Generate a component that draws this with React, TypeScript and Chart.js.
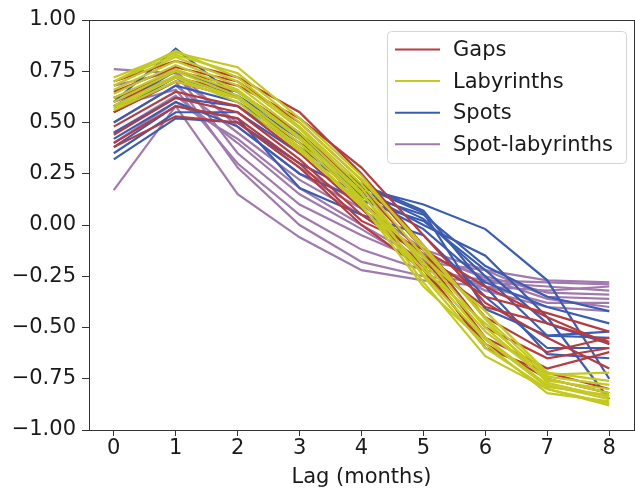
import React, { useEffect, useRef } from "react";
import { Chart, registerables } from "chart.js";

Chart.register(...registerables);

const lags = [0, 1, 2, 3, 4, 5, 6, 7, 8];
const xTicks = [0, 1, 2, 3, 4, 5, 6, 7, 8];
const yTicks = [-1, -0.75, -0.5, -0.25, 0, 0.25, 0.5, 0.75, 1];
const groupNames = ["Gaps", "Labyrinths", "Spots", "Spot-labyrinths"];
const groupColors = ["#b73b3f", "#c3c91f", "#3a5db3", "#a07aae"];

const gaps = [
  [0.70, 0.80, 0.72, 0.55, 0.25, -0.10, -0.45, -0.62, -0.55],
  [0.65, 0.77, 0.70, 0.50, 0.22, -0.12, -0.50, -0.65, -0.60],
  [0.60, 0.72, 0.65, 0.45, 0.18, -0.15, -0.55, -0.70, -0.62],
  [0.55, 0.70, 0.62, 0.40, 0.12, -0.18, -0.40, -0.48, -0.57],
  [0.48, 0.65, 0.58, 0.35, 0.08, -0.20, -0.60, -0.72, -0.80],
  [0.44, 0.62, 0.55, 0.32, 0.05, -0.15, -0.35, -0.43, -0.52],
  [0.40, 0.58, 0.52, 0.30, 0.02, -0.12, -0.30, -0.45, -0.58],
  [0.38, 0.53, 0.50, 0.28, 0.00, -0.22, -0.58, -0.75, -0.82],
  [0.62, 0.75, 0.68, 0.52, 0.28, -0.05, -0.38, -0.55, -0.70],
];

const labyrinths = [
  [0.72, 0.84, 0.77, 0.52, 0.24, -0.12, -0.45, -0.73, -0.72],
  [0.70, 0.85, 0.72, 0.48, 0.20, -0.15, -0.50, -0.76, -0.80],
  [0.68, 0.82, 0.70, 0.47, 0.18, -0.20, -0.55, -0.78, -0.85],
  [0.66, 0.80, 0.68, 0.45, 0.16, -0.25, -0.60, -0.80, -0.87],
  [0.64, 0.78, 0.66, 0.43, 0.15, -0.18, -0.52, -0.75, -0.82],
  [0.62, 0.76, 0.65, 0.42, 0.13, -0.28, -0.64, -0.80, -0.88],
  [0.60, 0.75, 0.63, 0.40, 0.12, -0.22, -0.48, -0.74, -0.78],
  [0.58, 0.73, 0.62, 0.38, 0.10, -0.30, -0.58, -0.82, -0.86],
  [0.57, 0.72, 0.60, 0.36, 0.11, -0.16, -0.42, -0.72, -0.76],
  [0.70, 0.83, 0.74, 0.50, 0.22, -0.10, -0.46, -0.77, -0.84],
  [0.56, 0.70, 0.62, 0.37, 0.09, -0.24, -0.56, -0.79, -0.83],
];

const spots = [
  [0.60, 0.86, 0.62, 0.42, 0.18, 0.10, -0.02, -0.27, -0.75],
  [0.32, 0.52, 0.50, 0.30, 0.15, 0.05, -0.20, -0.35, -0.42],
  [0.35, 0.55, 0.55, 0.35, 0.17, 0.03, -0.25, -0.54, -0.55],
  [0.50, 0.68, 0.60, 0.40, 0.20, 0.07, -0.30, -0.63, -0.65],
  [0.45, 0.62, 0.58, 0.38, 0.16, 0.00, -0.15, -0.45, -0.85],
  [0.55, 0.72, 0.63, 0.44, 0.19, 0.06, -0.41, -0.54, -0.52],
  [0.38, 0.58, 0.52, 0.18, 0.05, -0.05, -0.35, -0.60, -0.60],
  [0.58, 0.75, 0.65, 0.45, 0.14, -0.02, -0.28, -0.40, -0.48],
  [0.42, 0.60, 0.48, 0.25, 0.12, 0.02, -0.22, -0.48, -0.58],
];

const spotLabyrinths = [
  [0.76, 0.74, 0.35, 0.10, -0.05, -0.18, -0.22, -0.27, -0.28],
  [0.17, 0.58, 0.15, -0.06, -0.22, -0.27, -0.30, -0.32, -0.30],
  [0.55, 0.70, 0.28, 0.00, -0.18, -0.25, -0.28, -0.30, -0.32],
  [0.50, 0.68, 0.45, 0.22, 0.05, -0.15, -0.25, -0.33, -0.34],
  [0.62, 0.72, 0.50, 0.28, 0.10, -0.12, -0.22, -0.35, -0.36],
  [0.45, 0.63, 0.40, 0.15, -0.02, -0.20, -0.30, -0.38, -0.38],
  [0.58, 0.66, 0.30, 0.05, -0.12, -0.22, -0.27, -0.28, -0.29],
  [0.40, 0.60, 0.42, 0.18, 0.00, -0.17, -0.32, -0.40, -0.42],
  [0.68, 0.75, 0.48, 0.25, 0.08, -0.14, -0.26, -0.36, -0.40],
];

const FONT = "'DejaVu Sans', sans-serif";
const FSIZE = 21;

function fmtY(v: number): string {
  const s = Math.abs(v).toFixed(2);
  return v < 0 ? "\u2212" + s : s;
}

const frameLegendPlugin = {
  id: "frameLegend",
  afterDraw(chart: any) {
    const { ctx, chartArea } = chart;
    ctx.save();
    ctx.strokeStyle = "#333333";
    ctx.lineWidth = 1;
    ctx.strokeRect(
      Math.round(chartArea.left) + 0.5,
      Math.round(chartArea.top) + 0.5,
      Math.round(chartArea.right - chartArea.left),
      Math.round(chartArea.bottom - chartArea.top)
    );
    // legend box
    const bx = 387.5, by = 31.5, bw = 239, bh = 132, r = 4;
    ctx.beginPath();
    ctx.moveTo(bx + r, by);
    ctx.lineTo(bx + bw - r, by);
    ctx.quadraticCurveTo(bx + bw, by, bx + bw, by + r);
    ctx.lineTo(bx + bw, by + bh - r);
    ctx.quadraticCurveTo(bx + bw, by + bh, bx + bw - r, by + bh);
    ctx.lineTo(bx + r, by + bh);
    ctx.quadraticCurveTo(bx, by + bh, bx, by + bh - r);
    ctx.lineTo(bx, by + r);
    ctx.quadraticCurveTo(bx, by, bx + r, by);
    ctx.closePath();
    ctx.fillStyle = "rgba(255,255,255,0.8)";
    ctx.fill();
    ctx.strokeStyle = "#d4d4d4";
    ctx.stroke();
    ctx.font = FSIZE + "px " + FONT;
    ctx.textBaseline = "middle";
    ctx.textAlign = "left";
    groupNames.forEach((name, i) => {
      const y = 49.5 + i * 31.6;
      ctx.strokeStyle = groupColors[i];
      ctx.lineWidth = 2;
      ctx.beginPath();
      ctx.moveTo(395, y);
      ctx.lineTo(440, y);
      ctx.stroke();
      ctx.fillStyle = "#1a1a1a";
      ctx.fillText(name, 453, y + 1);
    });
    ctx.restore();
  },
};

export default function App() {
  const canvasRef = useRef<HTMLCanvasElement | null>(null);

  useEffect(() => {
    document.body.style.margin = "0";
    const canvas = canvasRef.current;
    if (!canvas) return;

    const groups = [
      { data: labyrinths, color: groupColors[1], name: groupNames[1] },
      { data: gaps, color: groupColors[0], name: groupNames[0] },
      { data: spots, color: groupColors[2], name: groupNames[2] },
      { data: spotLabyrinths, color: groupColors[3], name: groupNames[3] },
    ];
    const datasets: any[] = [];
    groups.forEach((g) => {
      g.data.forEach((series, k) => {
        datasets.push({
          label: g.name + " " + (k + 1),
          data: lags.map((l, i) => ({ x: l, y: series[i] })),
          borderColor: g.color,
          backgroundColor: g.color,
          borderWidth: 2.2,
          pointRadius: 0,
          tension: 0,
          fill: false,
        });
      });
    });

    const chart = new Chart(canvas, {
      type: "line",
      data: { datasets },
      options: {
        animation: false,
        responsive: false,
        maintainAspectRatio: false,
        layout: { padding: { top: 20, right: 1, left: 0, bottom: 0 } },
        plugins: {
          legend: { display: false },
          tooltip: { enabled: false },
        },
        scales: {
          x: {
            type: "linear",
            min: -0.4,
            max: 8.4,
            afterBuildTicks: (scale: any) => {
              scale.ticks = xTicks.map((v) => ({ value: v }));
            },
            afterFit: (scale: any) => {
              scale.height = 62;
            },
            grid: {
              display: true,
              drawOnChartArea: false,
              drawTicks: true,
              tickLength: 6,
              color: "#333333",
              lineWidth: 1,
            },
            border: { display: false },
            ticks: {
              color: "#1a1a1a",
              font: { family: FONT, size: FSIZE },
              padding: 0,
              maxRotation: 0,
              callback: (v: any) => String(v),
            },
            title: {
              display: true,
              text: "Lag (months)",
              color: "#1a1a1a",
              font: { family: FONT, size: FSIZE },
              padding: { top: 2, bottom: 2 },
            },
          },
          y: {
            type: "linear",
            min: -1,
            max: 1,
            afterBuildTicks: (scale: any) => {
              scale.ticks = yTicks.map((v) => ({ value: v }));
            },
            afterFit: (scale: any) => {
              scale.width = 89;
            },
            grid: {
              display: true,
              drawOnChartArea: false,
              drawTicks: true,
              tickLength: 7,
              color: "#333333",
              lineWidth: 1,
            },
            border: { display: false },
            ticks: {
              color: "#1a1a1a",
              font: { family: FONT, size: FSIZE },
              padding: 6,
              callback: (v: any) => fmtY(Number(v)),
            },
          },
        },
      },
      plugins: [frameLegendPlugin],
    });

    return () => chart.destroy();
  }, []);

  return (
    <div style={{ width: 635, height: 492, background: "#ffffff" }}>
      <canvas ref={canvasRef} width={635} height={492} style={{ display: "block" }} />
    </div>
  );
}
